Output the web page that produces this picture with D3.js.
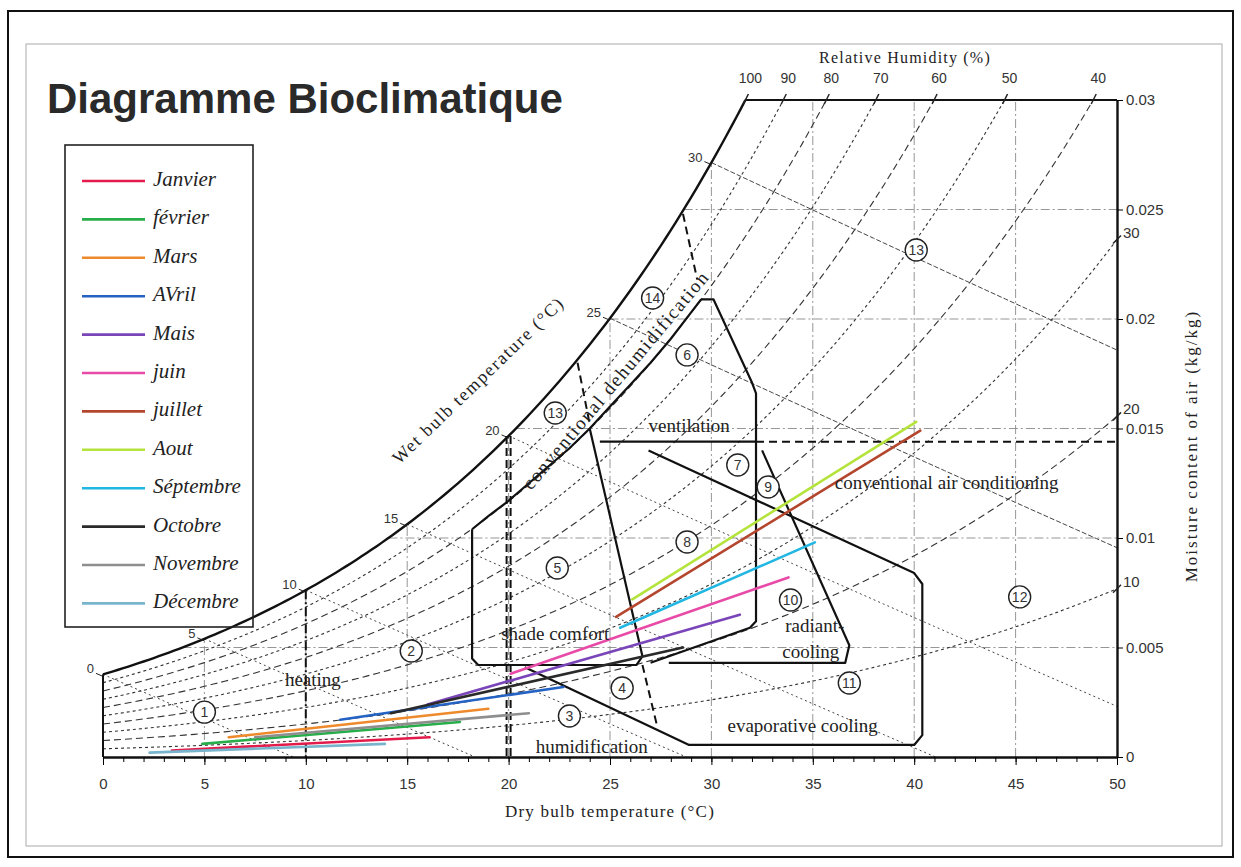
<!DOCTYPE html>
<html>
<head>
<meta charset="utf-8">
<script src="https://cdn.jsdelivr.net/npm/d3@7"></script>
<style>
  body { margin: 0; background: #fff; }
  svg text { font-family: "Liberation Serif", "DejaVu Serif", serif; fill: #222; }
  .num { font-family: "Liberation Sans", "DejaVu Sans", sans-serif; font-size: 14px; fill: #333; }
</style>
</head>
<body>
<svg id="chart" width="1241" height="867"></svg>
<script>
// axis values
const dryBulbTicks = [0, 5, 10, 15, 20, 25, 30, 35, 40, 45, 50]
const moistureTicks = [0, 0.005, 0.01, 0.015, 0.02, 0.025, 0.03]
const rhLevels = [0.9, 0.8, 0.7, 0.6, 0.5, 0.4, 0.3, 0.2, 0.1]
const rhTopLabels = [100, 90, 80, 70, 60, 50, 40]
const rhRightLabels = [30, 20, 10]
const wetBulbLevels = [0, 5, 10, 15, 20, 25, 30]

// monthly lines (min / max of each month)
const months = ['Janvier', 'février', 'Mars', 'AVril', 'Mais', 'juin', 'juillet', 'Aout', 'Séptembre', 'Octobre', 'Novembre', 'Décembre']
const monthColors = ['#e31b4a', '#27ae4a', '#ee8a2c', '#2462c4', '#7a45b8', '#e84aa8', '#b5462e', '#b4e43c', '#22b6e2', '#2a2a2a', '#8e8e8e', '#78b4cc']
const tStart = [3.4, 4.9, 6.2, 11.7, 16.0, 20.1, 25.3, 26.1, 25.5, 14.2, 7.5, 2.3]
const tEnd = [16.1, 17.6, 19.0, 22.7, 31.4, 33.8, 40.3, 40.1, 35.1, 28.6, 21.0, 13.9]
const wStart = [0.0003, 0.0006, 0.0009, 0.0017, 0.0024, 0.0038, 0.0064, 0.0072, 0.0059, 0.0020, 0.0009, 0.0002]
const wEnd = [0.0009, 0.0016, 0.0022, 0.0032, 0.0065, 0.0082, 0.0149, 0.0153, 0.0098, 0.0050, 0.0020, 0.0006]

// zone outlines [T, w]
const comfortEdge = [[18.2, 0.0104], [19, 0.0110], [20, 0.0117], [21, 0.0125], [22, 0.0133], [23, 0.0141], [24, 0.0150], [25, 0.0160], [26, 0.0170], [27, 0.0180], [28, 0.0191], [29, 0.0203], [29.5, 0.0209]]
const shadeComfort = [[24.0, 0.0150], [26.6, 0.0046], [26.3, 0.0042], [18.5, 0.0042], [18.2, 0.0045], [18.2, 0.0104]]
const ventilation = [[29.5, 0.0209], [30.1, 0.0209], [32.0, 0.0171], [32.2, 0.0166], [32.2, 0.0062], [31.9, 0.0059], [27.0, 0.0043]]
const ventilationTop = [[24.5, 0.0144], [32.2, 0.0144]]
const evaporative = [[26.9, 0.0140], [40.0, 0.0084], [40.4, 0.0079], [40.4, 0.0010], [40.0, 0.00055], [28.9, 0.00055], [20.8, 0.0041]]
const radiant = [[32.5, 0.0140], [36.8, 0.0051], [36.6, 0.0043], [27.9, 0.0043]]
const dashedBounds = [
  [[32.2, 0.0144], [50, 0.0144]],
  [[23.4, 0.0180], [24.0, 0.0152]],
  [[28.6, 0.0248], [29.3, 0.0218]],
  [[26.6, 0.0042], [27.3, 0.0015]]
]

// numbered zones and zone names
const zoneNums = ['1', '2', '3', '4', '5', '6', '7', '8', '9', '10', '11', '12', '13', '13', '14']
const zoneT = [5.0, 15.2, 23.0, 25.6, 22.4, 28.8, 31.3, 28.8, 32.8, 33.9, 36.8, 45.2, 40.1, 22.3, 27.1]
const zoneW = [0.00205, 0.00484, 0.00187, 0.00315, 0.00863, 0.01836, 0.01333, 0.00982, 0.01233, 0.00717, 0.00338, 0.00731, 0.02315, 0.01571, 0.02096]
const zoneNames = ['heating', 'humidification', 'shade comfort', 'ventilation', 'conventional air conditioning', 'evaporative cooling', 'radiant-', 'cooling']
const nameT = [10.35, 24.1, 22.3, 28.9, 41.6, 34.5, 35.1, 34.9]
const nameW = [0.0035, 0.00046, 0.0056, 0.0151, 0.0125, 0.00142, 0.0060, 0.0048]

// psychrometrics (101325 Pa)
const P = 101325
const psat = t => 610.94 * Math.exp(17.625 * t / (t + 243.04))
const wOf = (t, rh) => { const pv = rh * psat(t); return 0.622 * pv / (P - pv) }
const solveT = (w, rh) => {
  let lo = -10, hi = 80
  for (let i = 0; i < 60; i++) { const m = (lo + hi) / 2; if (wOf(m, rh) < w) lo = m; else hi = m }
  return (lo + hi) / 2
}
const wetBulbW = (t, twb) => ((2501 - 2.326 * twb) * wOf(twb, 1) - 1.006 * (t - twb)) / (2501 + 1.86 * t - 4.186 * twb)

const x = d3.scaleLinear().domain([0, 50]).range([103, 1117])
const y = d3.scaleLinear().domain([0, 0.03]).range([757, 100])
const line = d3.line().x(d => x(d[0])).y(d => y(d[1]))

const svg = d3.select('#chart')

// frames
svg.append('rect').attr('x', 8).attr('y', 11).attr('width', 1225).attr('height', 846)
  .attr('fill', 'none').attr('stroke', '#111').attr('stroke-width', 2)
svg.append('rect').attr('x', 26).attr('y', 44).attr('width', 1196).attr('height', 802)
  .attr('fill', 'none').attr('stroke', '#aaa').attr('stroke-width', 1)

// title
svg.append('text').attr('x', 47).attr('y', 113).text('Diagramme Bioclimatique')
  .style('font-family', '"Liberation Sans", Arial, sans-serif').style('font-weight', 'bold')
  .style('font-size', '42px').style('fill', '#2a2a2a')

svg.append('clipPath').attr('id', 'plot').append('rect')
  .attr('x', x(0)).attr('y', y(0.03)).attr('width', x(50) - x(0)).attr('height', y(0) - y(0.03))

const plot = svg.append('g').attr('clip-path', 'url(#plot)')

// dry bulb grid
dryBulbTicks.slice(1, -1).forEach(t => {
  plot.append('path').attr('d', line([[t, 0], [t, Math.min(wOf(t, 1), 0.03)]]))
    .attr('stroke', '#8a8a8a').attr('stroke-width', 0.9).attr('stroke-dasharray', '9,3,2,3').attr('fill', 'none')
})
// moisture grid
moistureTicks.slice(1, -1).forEach(w => {
  plot.append('path').attr('d', line([[solveT(w, 1), w], [50, w]]))
    .attr('stroke', '#8a8a8a').attr('stroke-width', 0.9).attr('stroke-dasharray', '9,3,2,3').attr('fill', 'none')
})

// relative humidity curves
rhLevels.forEach((rh, i) => {
  const pts = d3.range(0, 50.01, 0.5).map(t => [t, wOf(t, rh)])
  plot.append('path').attr('d', line(pts)).attr('fill', 'none')
    .attr('stroke', '#333').attr('stroke-width', 1.1)
    .attr('stroke-dasharray', i % 2 === 0 ? '3,3' : '7,4')
})

// wet bulb lines
wetBulbLevels.forEach(twb => {
  const tEndW = Math.min(50, twb + (2501 - 2.326 * twb) * wOf(twb, 1) / 1.006)
  const pts = d3.range(twb, tEndW, 0.5).concat([tEndW]).map(t => [t, Math.max(0, wetBulbW(t, twb))])
  plot.append('path').attr('d', line(pts)).attr('fill', 'none')
    .attr('stroke', '#444').attr('stroke-width', 1).attr('stroke-dasharray', twb >= 25 ? '5,2' : '2,3')
})

// saturation curve
const tTop = solveT(0.03, 1)
const satPts = d3.range(0, tTop, 0.25).concat([tTop]).map(t => [t, wOf(t, 1)])
svg.append('path').attr('d', line(satPts)).attr('fill', 'none').attr('stroke', '#111').attr('stroke-width', 2.4)
svg.append('path').attr('d', line([[0, 0], [0, wOf(0, 1)]])).attr('stroke', '#111').attr('stroke-width', 2)
svg.append('path').attr('d', line([[tTop, 0.03], [50, 0.03]])).attr('stroke', '#111').attr('stroke-width', 2)

// wet bulb labels on the saturation curve
wetBulbLevels.forEach(twb => {
  const px = x(twb), py = y(wOf(twb, 1))
  svg.append('line').attr('x1', px - 7).attr('y1', py - 1).attr('x2', px).attr('y2', py + 2).attr('stroke', '#222')
  svg.append('text').attr('class', 'num').attr('x', px - 9).attr('y', py - 1)
    .attr('text-anchor', 'end').style('font-size', '13px').text(twb)
})

// heavy dashed boundaries
const heavy = svg.append('g').attr('fill', 'none').attr('stroke', '#111').attr('stroke-width', 2)
heavy.append('path').attr('d', line([[10, wOf(10, 1)], [10, 0]])).attr('stroke-dasharray', '9,3,2,3')
heavy.append('path').attr('d', line([[20, wOf(20, 1)], [20, 0]])).attr('stroke-dasharray', '8,4').attr('transform', 'translate(-2,0)')
heavy.append('path').attr('d', line([[20, wOf(20, 1)], [20, 0]])).attr('stroke-dasharray', '8,4').attr('transform', 'translate(2,0)')
dashedBounds.forEach(b => heavy.append('path').attr('d', line(b)).attr('stroke-dasharray', '8,5'))

// zone outlines
const zones = svg.append('g').attr('fill', 'none').attr('stroke', '#111').attr('stroke-width', 2.2)
  .attr('stroke-linejoin', 'round')
;[comfortEdge, shadeComfort, ventilation, ventilationTop, evaporative, radiant].forEach(z => {
  zones.append('path').attr('d', line(z))
})

// monthly lines
months.forEach((m, i) => {
  svg.append('path').attr('d', line([[tStart[i], wStart[i]], [tEnd[i], wEnd[i]]]))
    .attr('stroke', monthColors[i]).attr('stroke-width', 2.6).attr('stroke-linecap', 'round')
})

// zone numbers
zoneNums.forEach((n, i) => {
  const g = svg.append('g').attr('transform', `translate(${x(zoneT[i])},${y(zoneW[i])})`)
  g.append('circle').attr('r', 11).attr('fill', '#fff').attr('stroke', '#222').attr('stroke-width', 1.4)
  g.append('text').attr('class', 'num').attr('text-anchor', 'middle').attr('dy', 5).text(n)
})

// zone names
zoneNames.forEach((n, i) => {
  svg.append('text').attr('x', x(nameT[i])).attr('y', y(nameW[i]) + 6)
    .attr('text-anchor', 'middle').style('font-size', '19px').text(n)
})
svg.append('text').attr('transform', `translate(${x(25.3)},${y(0.0172)}) rotate(-50)`)
  .attr('text-anchor', 'middle').attr('dy', 6).style('font-size', '19px').style('letter-spacing', '1.6px')
  .text('conventional dehumidification')
svg.append('text').attr('transform', `translate(${x(18.5)},${y(0.0172)}) rotate(-44)`)
  .attr('text-anchor', 'middle').attr('dy', 6).style('font-size', '18px').style('letter-spacing', '1.6px')
  .text('Wet bulb temperature (°C)')

// bottom axis
const xAxis = svg.append('g').attr('transform', `translate(0,${y(0)})`)
  .call(d3.axisBottom(x).tickValues(dryBulbTicks).tickSize(8).tickSizeOuter(0).tickPadding(13))
xAxis.selectAll('text').attr('class', 'num').style('font-size', '15px')
xAxis.select('.domain').attr('stroke-width', 2.4).attr('stroke', '#111')
svg.append('g').attr('transform', `translate(0,${y(0)})`)
  .call(d3.axisBottom(x).ticks(50).tickSize(5).tickFormat('').tickSizeOuter(0))
  .select('.domain').remove()
svg.append('text').attr('x', 610).attr('y', 817).attr('text-anchor', 'middle')
  .style('font-size', '17px').style('letter-spacing', '1.2px').text('Dry bulb temperature (°C)')

// right axis
const yAxis = svg.append('g').attr('transform', `translate(${x(50)},0)`)
  .call(d3.axisRight(y).tickValues(moistureTicks).tickSize(6).tickSizeOuter(0).tickPadding(3).tickFormat(d => String(d)))
yAxis.selectAll('text').attr('class', 'num').style('font-size', '15px')
yAxis.select('.domain').attr('stroke-width', 2.4).attr('stroke', '#111')
svg.append('text').attr('transform', `translate(1197,${y(0.0142)}) rotate(-90)`)
  .attr('text-anchor', 'middle').style('font-size', '17px').style('letter-spacing', '2px')
  .text('Moisture content of air (kg/kg)')

// RH labels on the right axis
rhRightLabels.forEach(rh => {
  const py = y(wOf(50, rh / 100))
  svg.append('line').attr('x1', x(50) - 4).attr('y1', py + 4).attr('x2', x(50) + 4).attr('y2', py - 4).attr('stroke', '#222').attr('stroke-width', 1.5)
  svg.append('text').attr('class', 'num').attr('x', x(50) + 6).attr('y', py - 2).style('font-size', '15px').text(rh)
})

// RH labels on the top
rhTopLabels.forEach(rh => {
  const px = x(solveT(0.03, rh / 100))
  svg.append('line').attr('x1', px - 2).attr('y1', y(0.03) + 4).attr('x2', px + 3).attr('y2', y(0.03) - 6).attr('stroke', '#222').attr('stroke-width', 1.5)
  svg.append('text').attr('class', 'num').attr('x', px + 5).attr('y', y(0.03) - 17).attr('text-anchor', 'middle').text(rh)
})
svg.append('text').attr('x', 905).attr('y', 63).attr('text-anchor', 'middle')
  .style('font-size', '16px').style('letter-spacing', '1.2px').text('Relative Humidity (%)')

// legend
const legend = svg.append('g')
legend.append('rect').attr('x', 65).attr('y', 145).attr('width', 188).attr('height', 482)
  .attr('fill', 'none').attr('stroke', '#222').attr('stroke-width', 1.6)
months.forEach((m, i) => {
  const ly = 181 + i * 38.4
  legend.append('line').attr('x1', 82).attr('x2', 145).attr('y1', ly).attr('y2', ly)
    .attr('stroke', monthColors[i]).attr('stroke-width', 2.6)
  legend.append('text').attr('x', 153).attr('y', ly + 5).style('font-style', 'italic')
    .style('font-size', '21px').text(m)
})
</script>
</body>
</html>
